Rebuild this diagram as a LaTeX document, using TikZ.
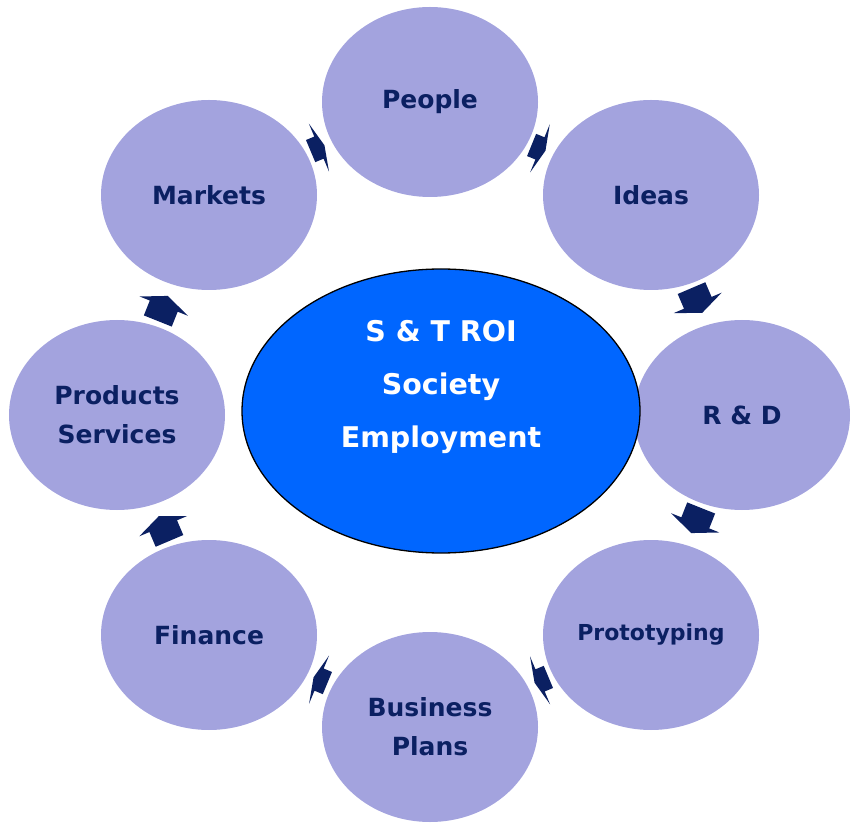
\documentclass[tikz,border=0pt]{standalone}
\usepackage{fontspec}
\setmainfont{DejaVu Sans}
\usetikzlibrary{shapes.geometric}
\definecolor{lav}{HTML}{A3A3DE}
\definecolor{navy}{HTML}{0B2062}
\definecolor{hub}{HTML}{0066FF}
\tikzset{
  ring/.style={ellipse, fill=lav, minimum width=216pt, minimum height=190pt, inner sep=0pt,
    text=navy, align=center, font=\bfseries\fontsize{25}{39}\selectfont},
  hubnode/.style={ellipse, fill=hub, draw=black, line width=1.3pt, minimum width=398pt, minimum height=284pt, inner sep=0pt},
  hubtext/.style={text=white, align=center, font=\bfseries\fontsize{28.5}{53}\selectfont},
  thickarr/.pic={\fill[navy] (-14,-15) -- (2,-15) -- (2,-26) -- (13,0) -- (2,26) -- (2,15) -- (-14,15) -- cycle;},
  thinarr/.pic={\fill[navy] (-8,-12) -- (1,-12) -- (1,-26) -- (7,0) -- (1,26) -- (1,12) -- (-8,12) -- cycle;}
}
\begin{document}
\begin{tikzpicture}[x=1pt,y=1pt]
\useasboundingbox (0,0) rectangle (850,825);
\node[ring] (people) at (430,723) {People};
\node[ring] (ideas) at (651,630) {Ideas};
\node[ring] (rd) at (742,410) {R \& D};
\node[ring, font=\bfseries\fontsize{22}{39}\selectfont] (proto) at (651,190) {Prototyping};
\node[ring] (biz) at (430,98) {Business\\Plans};
\node[ring] (fin) at (209,190) {Finance};
\node[ring] (prod) at (117,410) {Products\\Services};
\node[ring] (mark) at (209,630) {Markets};
\node[hubnode] (hub) at (441,414) {};
\node[hubtext] (hubtxt) at (441,438) {S \& T ROI\\Society\\Employment};
\coordinate (a1) at (318,677);
\coordinate (a2) at (539,677);
\coordinate (a3) at (697,524);
\coordinate (a4) at (696,304);
\coordinate (a5) at (541,145);
\coordinate (a6) at (320,145);
\coordinate (a7) at (164,297);
\coordinate (a8) at (163,517);
\pic[rotate=22.8] at (a1) {thinarr};
\pic[rotate=-22.2] at (a2) {thinarr};
\pic[rotate=-66.9] at (a3) {thickarr};
\pic[rotate=-111.7] at (a4) {thickarr};
\pic[rotate=-157.3] at (a5) {thinarr};
\pic[rotate=157.5] at (a6) {thinarr};
\pic[rotate=113] at (a7) {thickarr};
\pic[rotate=68.2] at (a8) {thickarr};
\end{tikzpicture}
\end{document}
